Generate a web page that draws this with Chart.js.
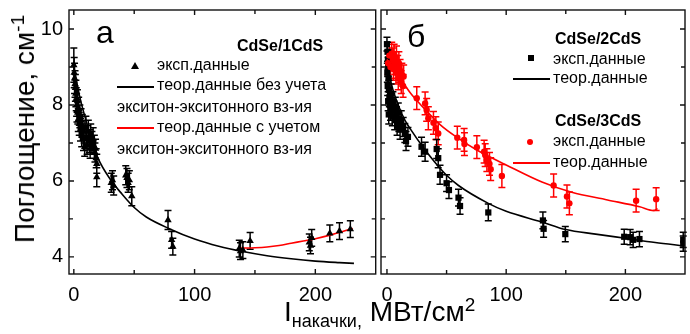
<!DOCTYPE html>
<html>
<head>
<meta charset="utf-8">
<script src="https://cdn.jsdelivr.net/npm/chart.js@4.4.0/dist/chart.umd.min.js"></script>
<style>
body { margin: 0; background: #fff; }
#wrap { position: relative; width: 690px; height: 334px; overflow: hidden; font-family: "Liberation Sans", Arial, sans-serif; color: #000; }
canvas { position: absolute; top: 0; }
#chart_a { left: 0; }
#chart_b { left: 370px; }
.txt { position: absolute; white-space: nowrap; line-height: 1; transform: translateY(-50%); font-size: 16px; }
.bold { font-weight: bold; }
.ln { position: absolute; height: 2px; width: 37px; transform: translateY(-50%); }
.letter { position: absolute; font-size: 32px; line-height: 1; }
#ytitle { position: absolute; left: 25px; top: 129px; font-size: 28px; line-height: 1; white-space: nowrap; transform: translate(-50%, -50%) rotate(-90deg); }
#xtitle { position: absolute; left: 284px; top: 298px; font-size: 28px; line-height: 28px; white-space: nowrap; }
</style>
</head>
<body>
<div id="wrap">
    <canvas id="chart_a" width="380" height="334"></canvas>
    <canvas id="chart_b" width="320" height="334"></canvas>

    <div class="letter" style="left:96px; top:16px;">а</div>
    <div class="letter" style="left:407px; top:20px;">б</div>

    <!-- legend, panel a -->
    <div class="txt bold" style="left:237px; top:45.5px;">CdSe/1CdS</div>
    <div style="position:absolute; left:131px; top:62px; width:0; height:0; border-left:4px solid transparent; border-right:4px solid transparent; border-bottom:7px solid #000;"></div>
    <div class="txt" style="left:157px; top:65px;">эксп.данные</div>
    <div class="ln" style="left:117px; top:87px; background:#000;"></div>
    <div class="txt" style="left:157px; top:85px;">теор.данные без учета</div>
    <div class="txt" style="left:117px; top:106.5px;">экситон-экситонного вз-ия</div>
    <div class="ln" style="left:117px; top:128px; background:#ff0000;"></div>
    <div class="txt" style="left:157px; top:127px;">теор.данные с учетом</div>
    <div class="txt" style="left:117px; top:148.5px;">экситон-экситонного вз-ия</div>

    <!-- legend, panel b -->
    <div class="txt bold" style="left:555px; top:38.5px;">CdSe/2CdS</div>
    <div style="position:absolute; left:528px; top:55px; width:6px; height:6px; background:#000;"></div>
    <div class="txt" style="left:553px; top:58.5px;">эксп.данные</div>
    <div class="ln" style="left:513px; top:79px; background:#000;"></div>
    <div class="txt" style="left:553px; top:78px;">теор.данные</div>
    <div class="txt bold" style="left:555px; top:120.5px;">CdSe/3CdS</div>
    <div style="position:absolute; left:527px; top:139px; width:6px; height:6px; border-radius:50%; background:#ff0000;"></div>
    <div class="txt" style="left:553px; top:141px;">эксп.данные</div>
    <div class="ln" style="left:513px; top:163px; background:#ff0000;"></div>
    <div class="txt" style="left:553px; top:161.5px;">теор.данные</div>

    <div id="ytitle">Поглощение, см<span style="font-size:19px; position:relative; top:-10px;">-1</span></div>
    <div id="xtitle">I<span style="font-size:18px; position:relative; top:6px;">накачки,</span> МВт/см<span style="font-size:19px; position:relative; top:-10px;">2</span></div>
</div>

<script>
// panel a: CdSe/1CdS, points are [x, y, error]
const a_exp = [
    [0, 9.05, 0.45], [0.3, 8.85, 0.4], [0.6, 8.7, 0.4], [1, 8.55, 0.35], [1.3, 8.45, 0.35],
    [1.7, 8.3, 0.35], [2, 8.15, 0.3], [2.3, 8.0, 0.3], [2.6, 7.85, 0.3], [3, 8.1, 0.3],
    [3.3, 7.8, 0.3], [3.7, 7.6, 0.3], [4, 7.9, 0.3], [4.5, 7.5, 0.3], [5, 7.7, 0.3],
    [5.5, 7.35, 0.3], [6, 7.6, 0.3], [6.5, 7.2, 0.3], [7, 7.45, 0.3], [8, 7.1, 0.3],
    [8.5, 7.3, 0.3], [9, 6.9, 0.25], [10, 7.4, 0.3], [10.5, 7.15, 0.3], [11, 6.95, 0.25],
    [12, 7.3, 0.3], [13, 7.05, 0.3], [13.5, 6.85, 0.25], [14, 7.2, 0.3], [15, 7.0, 0.3],
    [16, 7.1, 0.3], [17, 6.9, 0.3], [17.5, 6.75, 0.25], [18, 6.85, 0.25], [18.5, 6.6, 0.25],
    [19, 6.45, 0.25], [19, 6.1, 0.25],
    [31, 5.95, 0.25], [32, 6.02, 0.25], [33, 5.88, 0.25], [43, 6.15, 0.25], [44, 6.08, 0.25],
    [45, 5.95, 0.25], [46, 6.02, 0.25], [48, 5.6, 0.25], [78, 4.97, 0.25], [81, 4.45, 0.22],
    [82, 4.27, 0.22], [137, 4.22, 0.22], [138, 4.15, 0.22], [140, 4.18, 0.22], [146, 4.42, 0.22],
    [195, 4.38, 0.22], [196, 4.3, 0.22], [197, 4.5, 0.22], [212, 4.62, 0.22], [220, 4.68, 0.22],
    [229, 4.73, 0.22]
];
const a_theo_x = [0, 5, 10, 15, 20, 30, 40, 50, 60, 80, 100, 120, 140, 160, 180, 200, 220, 232];
const a_theo_y = [9.0, 8.2, 7.6, 7.05, 6.6, 6.05, 5.65, 5.3, 5.05, 4.73, 4.47, 4.28, 4.14, 4.03, 3.95, 3.89, 3.85, 3.83];
const a_xx_x = [138, 150, 160, 170, 180, 190, 200, 213, 222, 231];
const a_xx_y = [4.23, 4.24, 4.26, 4.3, 4.36, 4.42, 4.48, 4.58, 4.66, 4.75];

// panel b: CdSe/2CdS (black) and CdSe/3CdS (red)
const b2_exp = [
    [0, 9.6, 0.18], [0.5, 9.4, 0.25], [0.8, 9.2, 0.25], [1, 9.0, 0.25], [0.3, 8.85, 0.25],
    [1.3, 8.7, 0.25], [0.6, 8.5, 0.25], [1.6, 8.4, 0.25], [2, 8.2, 0.25], [1, 8.1, 0.25],
    [2.5, 8.0, 0.25], [3, 7.85, 0.25], [1.5, 7.75, 0.25], [3.5, 8.3, 0.25], [4, 8.05, 0.25],
    [4.5, 7.7, 0.25], [5, 8.1, 0.25], [6, 7.85, 0.25], [6.5, 7.6, 0.25], [7, 7.95, 0.25],
    [8, 7.7, 0.25], [8.5, 7.45, 0.25], [9.5, 7.8, 0.25], [10, 7.55, 0.25], [11, 7.35, 0.25],
    [12, 7.6, 0.25], [13.6, 7.42, 0.25], [15, 7.26, 0.25], [16, 7.05, 0.25], [17.6, 7.16, 0.25],
    [29, 6.9, 0.25], [32, 6.77, 0.25], [41.7, 6.84, 0.25], [43, 6.6, 0.25], [44.5, 6.16, 0.25],
    [50, 5.94, 0.22], [52, 5.76, 0.22], [60, 5.56, 0.22], [61.3, 5.34, 0.22], [85, 5.17, 0.22],
    [130.8, 4.96, 0.22], [131.4, 4.74, 0.22], [149.6, 4.6, 0.2], [199, 4.53, 0.2], [204, 4.52, 0.2],
    [206.5, 4.45, 0.2], [211.8, 4.47, 0.2], [248.5, 4.45, 0.2], [248.5, 4.35, 0.2]
];
const b2_theo_x = [1, 5, 10, 15, 20, 30, 40, 50, 60, 85, 100, 130, 150, 175, 200, 225, 249];
const b2_theo_y = [8.9, 8.4, 7.95, 7.6, 7.35, 6.9, 6.5, 6.15, 5.88, 5.41, 5.2, 4.92, 4.72, 4.6, 4.49, 4.38, 4.29];

const b3_exp = [
    [1, 9.1, 0.3], [2, 9.3, 0.3], [3, 9.0, 0.3], [4, 9.35, 0.3], [5, 9.2, 0.3],
    [5.5, 8.95, 0.3], [6, 9.3, 0.3], [7, 9.1, 0.3], [7.5, 8.85, 0.3], [8, 9.25, 0.3],
    [9, 9.0, 0.3], [9.5, 8.7, 0.3], [10, 9.1, 0.3], [11, 8.9, 0.3], [12, 8.6, 0.3],
    [12.5, 8.8, 0.3], [13.5, 8.5, 0.3], [14, 8.75, 0.3],
    [25, 8.18, 0.3], [32, 8.04, 0.3], [33.3, 7.87, 0.3], [34.7, 7.65, 0.3], [39, 7.53, 0.3],
    [41, 7.39, 0.3], [43, 7.25, 0.3], [59, 7.14, 0.3], [64.7, 7.08, 0.3], [65, 6.97, 0.3],
    [75.4, 6.89, 0.3], [81.5, 6.77, 0.3], [82.4, 6.68, 0.3], [83.8, 6.55, 0.3], [86, 6.45, 0.3],
    [87, 6.31, 0.3], [96.4, 6.13, 0.3], [139.8, 5.88, 0.3], [151, 5.59, 0.3], [153, 5.41, 0.3],
    [209, 5.48, 0.3], [225.8, 5.52, 0.3]
];
const b3_theo_x = [0, 10, 20, 30, 45, 60, 75, 100, 130, 155, 185, 212, 224, 227];
const b3_theo_y = [9.2, 8.75, 8.3, 7.95, 7.47, 7.12, 6.82, 6.42, 5.97, 5.7, 5.5, 5.32, 5.22, 5.27];

const y_min = 3.55;
const y_max = 10.5;
const tick_font = { family: "'Liberation Sans', Arial, sans-serif", size: 20 };

function to_points(xs, ys) {
    return xs.map((x, i) => ({ x: x, y: ys[i] }));
}

function exp_dataset(rows, color, style, radius) {
    return {
        type: "scatter",
        data: rows.map((r) => ({ x: r[0], y: r[1] })),
        errs: rows.map((r) => r[2]),
        pointStyle: style,
        pointRadius: radius,
        backgroundColor: color,
        borderColor: color,
        borderWidth: 0,
    };
}

function theo_dataset(xs, ys, color) {
    return {
        type: "line",
        data: to_points(xs, ys),
        borderColor: color,
        borderWidth: 1.6,
        pointRadius: 0,
        fill: false,
        cubicInterpolationMode: "monotone",
    };
}

// error bars are drawn from the y scale of each chart
const errorbar_plugin = {
    id: "errorbars",
    beforeDatasetsDraw(chart) {
        const ctx = chart.ctx;
        const ys = chart.scales.y;
        chart.data.datasets.forEach((ds, i) => {
            if (!ds.errs) return;
            const meta = chart.getDatasetMeta(i);
            ctx.save();
            ctx.strokeStyle = ds.borderColor;
            ctx.lineWidth = 1.5;
            ctx.beginPath();
            meta.data.forEach((pt, j) => {
                const v = ds.data[j].y;
                const e = ds.errs[j];
                const top = ys.getPixelForValue(v + e);
                const bot = ys.getPixelForValue(v - e);
                ctx.moveTo(pt.x, top);
                ctx.lineTo(pt.x, bot);
                ctx.moveTo(pt.x - 3.5, top);
                ctx.lineTo(pt.x + 3.5, top);
                ctx.moveTo(pt.x - 3.5, bot);
                ctx.lineTo(pt.x + 3.5, bot);
            });
            ctx.stroke();
            ctx.restore();
        });
    }
};

// box round the plot and inward tick marks on all four sides
const frame_plugin = {
    id: "frame",
    afterDraw(chart) {
        const ctx = chart.ctx;
        const a = chart.chartArea;
        const xs = chart.scales.x;
        const ys = chart.scales.y;
        ctx.save();
        ctx.strokeStyle = "#111";
        ctx.lineWidth = 1.4;
        ctx.strokeRect(a.left, a.top, a.right - a.left, a.bottom - a.top);
        ctx.beginPath();
        xs.ticks.forEach((t) => {
            const px = xs.getPixelForValue(t.value);
            if (px <= a.left + 2 || px >= a.right - 2) return;
            const len = t.value % 100 === 0 ? 5 : 4;
            ctx.moveTo(px, a.bottom);
            ctx.lineTo(px, a.bottom - len);
            ctx.moveTo(px, a.top);
            ctx.lineTo(px, a.top + len);
        });
        ys.ticks.forEach((t) => {
            const py = ys.getPixelForValue(t.value);
            if (py <= a.top + 2 || py >= a.bottom - 2) return;
            const len = t.value % 2 === 0 ? 5 : 4;
            ctx.moveTo(a.left, py);
            ctx.lineTo(a.left + len, py);
            ctx.moveTo(a.right, py);
            ctx.lineTo(a.right - len, py);
        });
        ctx.stroke();
        ctx.restore();
    }
};

function make_options(x_min, x_max, y_width, show_y, pad_right) {
    return {
        responsive: false,
        animation: false,
        devicePixelRatio: 1,
        events: [],
        layout: { padding: { top: 10, right: pad_right, left: 0, bottom: 0 } },
        plugins: { legend: { display: false }, tooltip: { enabled: false } },
        scales: {
            x: {
                type: "linear",
                min: x_min,
                max: x_max,
                afterFit: (scale) => {
                    scale.height = 60;
                    scale.paddingLeft = 0;
                    scale.paddingRight = 0;
                },
                border: { display: false },
                grid: { display: false, drawTicks: false },
                ticks: {
                    stepSize: 50,
                    includeBounds: false,
                    autoSkip: false,
                    maxRotation: 0,
                    padding: 9,
                    color: "#000",
                    font: tick_font,
                    callback: (v) => (v % 100 === 0 ? v : ""),
                },
            },
            y: {
                type: "linear",
                min: y_min,
                max: y_max,
                afterFit: (scale) => {
                    scale.width = y_width;
                    scale.paddingTop = 0;
                    scale.paddingBottom = 0;
                },
                border: { display: false },
                grid: { display: false, drawTicks: false },
                ticks: {
                    display: show_y,
                    stepSize: 1,
                    includeBounds: false,
                    autoSkip: false,
                    padding: 6,
                    color: "#000",
                    font: tick_font,
                    callback: (v) => (v % 2 === 0 ? v : ""),
                },
            },
        },
    };
}

new Chart(document.getElementById("chart_a"), {
    type: "scatter",
    data: {
        datasets: [
            exp_dataset(a_exp, "#000", "triangle", 4.3),
            theo_dataset(a_xx_x, a_xx_y, "#ff0000"),
            theo_dataset(a_theo_x, a_theo_y, "#000"),
        ],
    },
    options: make_options(-4, 250, 69, true, 3),
    plugins: [errorbar_plugin, frame_plugin],
});

new Chart(document.getElementById("chart_b"), {
    type: "scatter",
    data: {
        datasets: [
            exp_dataset(b3_exp, "#ff0000", "circle", 3.2),
            theo_dataset(b3_theo_x, b3_theo_y, "#ff0000"),
            exp_dataset(b2_exp, "#000", "rect", 4.4),
            theo_dataset(b2_theo_x, b2_theo_y, "#000"),
        ],
    },
    options: make_options(-5, 250, 11, false, 5),
    plugins: [errorbar_plugin, frame_plugin],
});
</script>
</body>
</html>
